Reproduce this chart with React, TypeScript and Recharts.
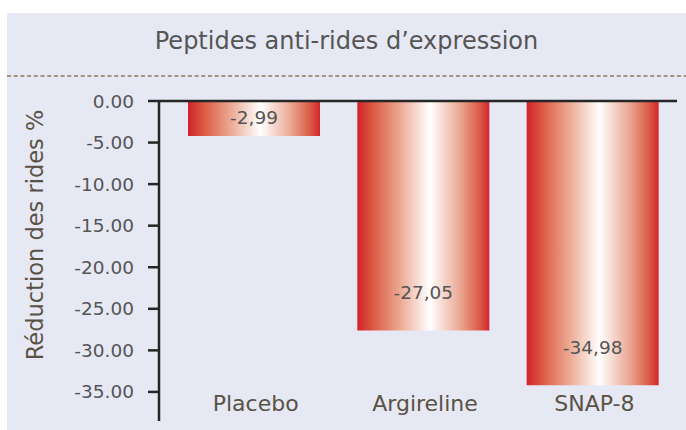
import React from 'react';
import { BarChart, Bar, XAxis, YAxis, ReferenceLine, LabelList } from 'recharts';

// values as drawn (bar ends) and the printed labels
const categories = ['Placebo', 'Argireline', 'SNAP-8'];
const values = [-4.2, -27.6, -34.2];
const valueLabels = ['-2,99', '-27,05', '-34,98'];
const yTicks = [0, -5, -10, -15, -20, -25, -30, -35];

const data = categories.map((name, i) => ({ name, value: values[i], label: valueLabels[i] }));

const FONT = '"DejaVu Sans", sans-serif';

const CategoryTick = (props: any) => {
  const { x, y, payload } = props;
  return (
    <text x={x + 2} y={y} dy={-10} textAnchor="middle" fill="#5a5244" fontSize={22} fontFamily={FONT}>
      {payload.value}
    </text>
  );
};

const BarValueLabel = (props: any) => {
  const { x, y, width, height, index } = props;
  const top = Math.min(y, y + height);
  const h = Math.abs(height);
  const cy = top + h - Math.min(h / 2, 37);
  return (
    <text x={x + width / 2} y={cy} dy={6} textAnchor="middle" fill="#555" fontSize={18.5} fontFamily={FONT}>
      {valueLabels[index]}
    </text>
  );
};

const AxisTitle = () => (
  <text
    x={28}
    y={222}
    transform="rotate(-90 28 222)"
    textAnchor="middle"
    dy={8}
    fill="#5a5244"
    fontSize={22.5}
    fontFamily={FONT}
  >
    Réduction des rides %
  </text>
);

export default function App() {
  return (
    <div
      style={{
        position: 'absolute',
        left: 7,
        top: 13,
        width: 679,
        height: 417,
        background: '#e6e8f4',
        fontFamily: FONT,
      }}
    >
      <div
        style={{
          position: 'absolute',
          top: 14,
          left: 0,
          width: 679,
          textAlign: 'center',
          fontSize: 24,
          color: '#555',
        }}
      >
        Peptides anti-rides d’expression
      </div>
      <svg width={679} height={4} style={{ position: 'absolute', top: 61, left: 0 }}>
        <line x1={0} y1={2} x2={679} y2={2} stroke="#8c7a5c" strokeWidth={1.4} strokeDasharray="4 2.7" />
      </svg>
      <div style={{ position: 'absolute', left: 0, top: 0 }}>
        <BarChart
          width={679}
          height={417}
          data={data}
          margin={{ top: 88, right: 9, bottom: 8, left: 0 }}
          barSize={132}
        >
          <defs>
            <linearGradient id="barGrad" x1="0" y1="0" x2="1" y2="0">
              <stop offset="0%" stopColor="#d2212a" />
              <stop offset="12%" stopColor="#dc5a44" />
              <stop offset="32%" stopColor="#eba891" />
              <stop offset="55%" stopColor="#ffffff" />
              <stop offset="78%" stopColor="#eaa791" />
              <stop offset="92%" stopColor="#dc5e48" />
              <stop offset="100%" stopColor="#d2262a" />
            </linearGradient>
          </defs>
          <XAxis
            dataKey="name"
            height={1}
            axisLine={false}
            tickLine={false}
            tickSize={0}
            tickMargin={0}
            padding={{ left: 10, right: 0 }}
            tick={<CategoryTick />}
            interval={0}
          />
          <YAxis
            width={152}
            domain={[-38.5, 0]}
            ticks={yTicks}
            interval={0}
            tickFormatter={(v: number) => v.toFixed(2)}
            tickSize={11}
            tickMargin={14}
            axisLine={{ stroke: '#262626', strokeWidth: 2.5 }}
            tickLine={{ stroke: '#262626', strokeWidth: 2.5 }}
            tick={{ fill: '#555', fontSize: 18.5, fontFamily: FONT }}
          />
          <Bar dataKey="value" fill="url(#barGrad)" isAnimationActive={false}>
            <LabelList dataKey="label" content={<BarValueLabel />} />
          </Bar>
          <ReferenceLine y={0} stroke="#262626" strokeWidth={2.5} />
          <AxisTitle />
        </BarChart>
      </div>
    </div>
  );
}
